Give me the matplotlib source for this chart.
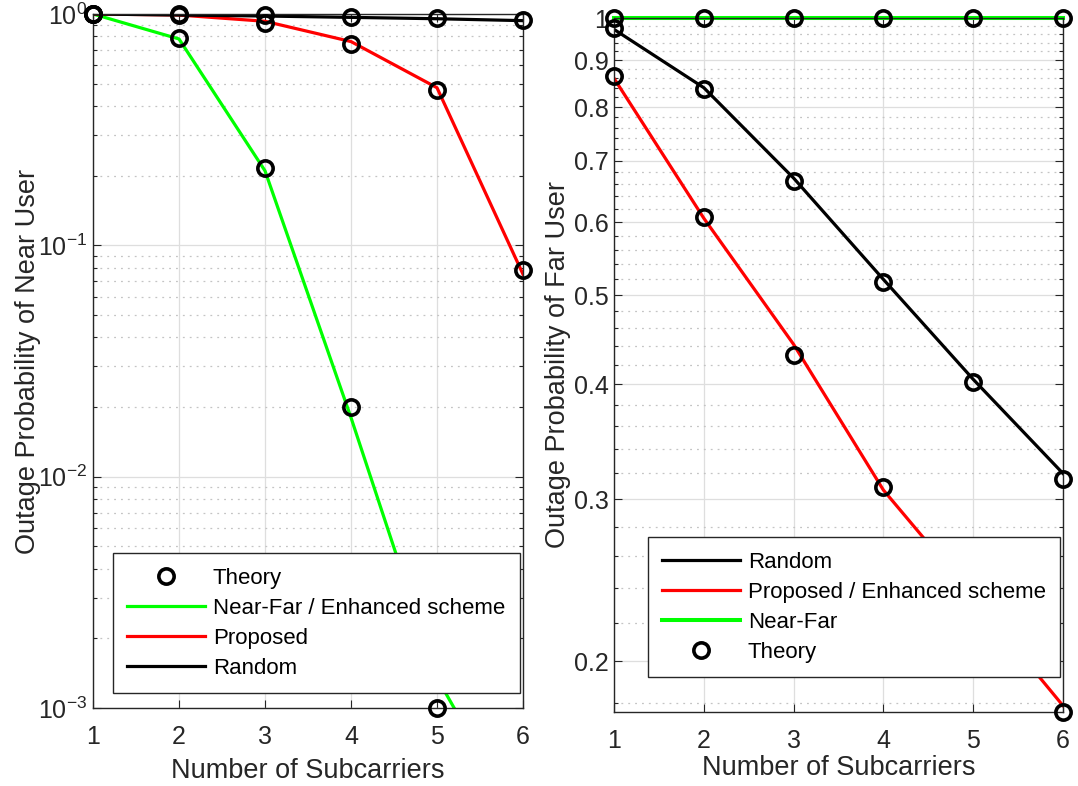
import numpy as np
import matplotlib
matplotlib.use("Agg")
import matplotlib.pyplot as plt
from matplotlib.ticker import LogLocator, FixedLocator, NullFormatter, FixedFormatter

plt.rcParams['font.family'] = ['Liberation Sans', 'DejaVu Sans']
plt.rcParams['mathtext.default'] = 'regular'

# number of subcarriers
n_sub = [1, 2, 3, 4, 5, 6]

# near user outage probability (simulation)
near_nearfar = [1.0, 0.78, 0.21, 0.018, 0.00135, 0.0003]
near_proposed = [1.0, 0.99, 0.93, 0.76, 0.48, 0.075]
near_random = [1.0, 0.99, 0.98, 0.967, 0.954, 0.936]
# near user theory
near_th_nearfar = [1.0, 0.785, 0.215, 0.020, 0.001, np.nan]
near_th_proposed = [1.0, 0.995, 0.91, 0.74, 0.47, 0.078]
near_th_random = [1.0, 1.0, 0.99, 0.975, 0.96, 0.94]

# far user outage probability (simulation)
far_random = [0.972, 0.84, 0.67, 0.52, 0.405, 0.32]
far_proposed = [0.86, 0.606, 0.442, 0.307, 0.235, 0.179]
far_nearfar = [1.0, 1.0, 1.0, 1.0, 1.0, 1.0]
# far user theory
far_th_random = [0.975, 0.837, 0.665, 0.516, 0.402, 0.316]
far_th_proposed = [0.866, 0.608, 0.43, 0.309, 0.23, 0.1762]
far_th_nearfar = [1.0, 1.0, 1.0, 1.0, 1.0, 1.0]

far_ticks = [0.2, 0.3, 0.4, 0.5, 0.6, 0.7, 0.8, 0.9, 1.0]
far_ticklabels = ['0.2', '0.3', '0.4', '0.5', '0.6', '0.7', '0.8', '0.9', '1']

GREEN = '#00ff00'
RED = '#ff0000'
BLACK = '#000000'
AXC = '#262626'
LW = 2.3
MS = 11
MEW = 2.6
FS = 18      # tick labels
LFS = 19.5   # axis labels
GFS = 16     # legend

fig = plt.figure(figsize=(10.78, 7.86), dpi=100)
ax1 = fig.add_axes([93 / 1078, 1 - 708 / 786, 430 / 1078, 694 / 786])
ax2 = fig.add_axes([614 / 1078, 1 - 712 / 786, 449 / 1078, 694 / 786])


def style(ax, xpad):
    ax.tick_params(which='both', direction='in', top=True, right=True,
                   colors=AXC, labelsize=FS, labelcolor=AXC)
    ax.tick_params(which='major', length=6, width=0.8)
    ax.tick_params(which='minor', length=3, width=0.8)
    ax.tick_params(axis='x', pad=12)
    ax.tick_params(axis='y', pad=4)
    for s in ax.spines.values():
        s.set_color(AXC)
        s.set_linewidth(1.0)
    ax.grid(True, which='major', color='#dedede', lw=0.9, ls='-')
    ax.grid(True, which='minor', axis='y', color='#c4c4c4', lw=0.9, ls=(0, (1.5, 4)))
    ax.set_axisbelow(True)
    ax.set_xlim(1, 6)
    ax.set_xticks(n_sub)
    ax.set_xlabel('Number of Subcarriers', fontsize=LFS, color=AXC, labelpad=xpad)


def add_legend(ax, handles, anchor):
    leg = ax.legend(handles=handles, loc='lower left', bbox_to_anchor=anchor,
                    borderaxespad=0, fontsize=GFS, fancybox=False, framealpha=1,
                    edgecolor=AXC, handlelength=3.5, labelspacing=0.4,
                    borderpad=0.65, handletextpad=0.35)
    leg.get_frame().set_linewidth(1.0)
    return leg


# ---- left: near user
h_nf, = ax1.plot(n_sub, near_nearfar, color=GREEN, lw=LW, label='Near-Far / Enhanced scheme')
h_pr, = ax1.plot(n_sub, near_proposed, color=RED, lw=LW, label='Proposed')
h_rd, = ax1.plot(n_sub, near_random, color=BLACK, lw=LW, label='Random')
h_th, = ax1.plot(n_sub, near_th_nearfar, 'o', mfc='none', mec=BLACK, ms=MS, mew=MEW,
                 clip_on=False, zorder=5, label='Theory')
ax1.plot(n_sub, near_th_proposed, 'o', mfc='none', mec=BLACK, ms=MS, mew=MEW, clip_on=False, zorder=5)
ax1.plot(n_sub, near_th_random, 'o', mfc='none', mec=BLACK, ms=MS, mew=MEW, clip_on=False, zorder=5)
ax1.set_yscale('log')
ax1.set_ylim(1e-3, 1)
ax1.yaxis.set_major_locator(FixedLocator([1e-3, 1e-2, 1e-1, 1]))
ax1.yaxis.set_major_formatter(FixedFormatter(['$10^{-3}$', '$10^{-2}$', '$10^{-1}$', '$10^{0}$']))
ax1.yaxis.set_minor_locator(LogLocator(base=10, subs=np.arange(2, 10)))
ax1.yaxis.set_minor_formatter(NullFormatter())
style(ax1, 7)
ax1.set_ylabel('Outage Probability of Near User', fontsize=LFS, color=AXC, labelpad=-2)
add_legend(ax1, [h_th, h_nf, h_pr, h_rd], (0.0465, 0.0216))

# ---- right: far user
g_rd, = ax2.plot(n_sub, far_random, color=BLACK, lw=LW, label='Random')
g_pr, = ax2.plot(n_sub, far_proposed, color=RED, lw=LW, label='Proposed / Enhanced scheme')
g_nf, = ax2.plot(n_sub, far_nearfar, color=GREEN, lw=LW + 0.6, label='Near-Far', clip_on=False)
g_th, = ax2.plot(n_sub, far_th_random, 'o', mfc='none', mec=BLACK, ms=MS, mew=MEW,
                 clip_on=False, zorder=5, label='Theory')
ax2.plot(n_sub, far_th_proposed, 'o', mfc='none', mec=BLACK, ms=MS, mew=MEW, clip_on=False, zorder=5)
ax2.plot(n_sub, far_th_nearfar, 'o', mfc='none', mec=BLACK, ms=MS, mew=MEW, clip_on=False, zorder=5)
ax2.set_yscale('log')
ax2.set_ylim(0.1762, 1.0)
ax2.yaxis.set_major_locator(FixedLocator(far_ticks))
ax2.yaxis.set_major_formatter(FixedFormatter(far_ticklabels))
minor = [round(v, 2) for v in np.arange(0.18, 1.0, 0.02) if round(v * 10, 4) % 1 != 0]
ax2.yaxis.set_minor_locator(FixedLocator(minor))
ax2.yaxis.set_minor_formatter(NullFormatter())
style(ax2, 2)
ax2.set_ylabel('Outage Probability of Far User', fontsize=LFS, color=AXC, labelpad=2)
add_legend(ax2, [g_rd, g_pr, g_nf, g_th], (0.0757, 0.0504))

fig.savefig('out.png', dpi=100)
